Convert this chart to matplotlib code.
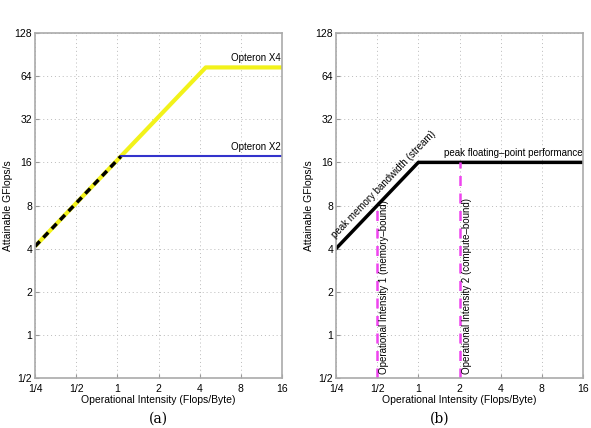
import matplotlib.pyplot as plt

plt.rcParams["font.family"] = ["Liberation Sans", "DejaVu Sans"]

# roofline data
xticks = [0.25, 0.5, 1, 2, 4, 8, 16]
xtick_labels = ["1/4", "1/2", "1", "2", "4", "8", "16"]
yticks = [0.5, 1, 2, 4, 8, 16, 32, 64, 128]
ytick_labels = ["1/2", "1", "2", "4", "8", "16", "32", "64", "128"]

# panel (a): Opteron X4 / X2
x4_x = [0.25, 4.43, 16]
x4_y = [4.15, 73.6, 73.6]
x2_diag_x = [0.25, 1.06]
x2_diag_y = [4.15, 17.6]
x2_flat_x = [1.06, 16]
x2_flat_y = [17.6, 17.6]

# panel (b): generic roofline
roof_x = [0.25, 1, 16]
roof_y = [4, 16, 16]
oi_x = [0.5, 2]
oi_top = [8, 16]
oi_labels = ["Operational Intensity 1 (memory\u2013bound)",
             "Operational Intensity 2 (compute\u2013bound)"]

fig = plt.figure(figsize=(5.91, 4.28), dpi=100)
ax_a = fig.add_axes([35/591, 1-378/428, 247/591, 345/428])
ax_b = fig.add_axes([336/591, 1-378/428, 247/591, 345/428])


def style(ax):
    ax.set_xscale("log", base=2)
    ax.set_yscale("log", base=2)
    ax.set_xlim(0.25, 16)
    ax.set_ylim(0.5, 128)
    ax.set_xticks(xticks)
    ax.set_xticklabels(xtick_labels)
    ax.set_yticks(yticks)
    ax.set_yticklabels(ytick_labels)
    ax.minorticks_off()
    ax.tick_params(direction="in", length=3, labelsize=7.5, pad=2, color="#999999")
    ax.tick_params(axis="x", pad=4)
    ax.grid(True, linestyle=(0, (1, 3)), color="#bbbbbb", linewidth=0.7)
    for s in ax.spines.values():
        s.set_color("#aaaaaa")
        s.set_linewidth(1.2)
    ax.set_xlabel("Operational Intensity (Flops/Byte)", fontsize=7.5, labelpad=1)
    ax.set_ylabel("Attainable GFlops/s", fontsize=7.5, labelpad=1)


style(ax_a)
ax_a.plot(x4_x, x4_y, color="#f2f21a", linewidth=3, solid_capstyle="butt")
ax_a.plot(x2_flat_x, x2_flat_y, color="#3333cc", linewidth=1.5)
ax_a.plot(x2_diag_x, x2_diag_y, color="black", linewidth=2.5,
          linestyle=(0, (2, 1.5)))
ax_a.text(15.6, 73.6 * 1.07, "Opteron X4", fontsize=7, ha="right", va="bottom")
ax_a.text(15.6, 17.6 * 1.07, "Opteron X2", fontsize=7, ha="right", va="bottom")

style(ax_b)
ax_b.plot(roof_x, roof_y, color="black", linewidth=2.5)
for x, top, lab in zip(oi_x, oi_top, oi_labels):
    ax_b.plot([x, x], [0.5, top], color="#ee44ee", linewidth=1.8,
              linestyle=(0, (4, 3)))
    ax_b.text(x * 1.04, 0.53, lab, rotation=90, fontsize=7,
              ha="left", va="bottom")
ax_b.text(0.255, 4.6, "peak memory bandwidth (stream)", rotation=46,
          fontsize=7, ha="left", va="bottom", rotation_mode="anchor")
ax_b.text(16, 16 * 1.08, "peak floating\u2013point performance", fontsize=7,
          ha="right", va="bottom")

fig.text(158/591, 1-419/428, "(a)", family="DejaVu Serif", fontsize=10,
         ha="center", va="center")
fig.text(440/591, 1-419/428, "(b)", family="DejaVu Serif", fontsize=10,
         ha="center", va="center")

fig.savefig("out.png", dpi=100)
